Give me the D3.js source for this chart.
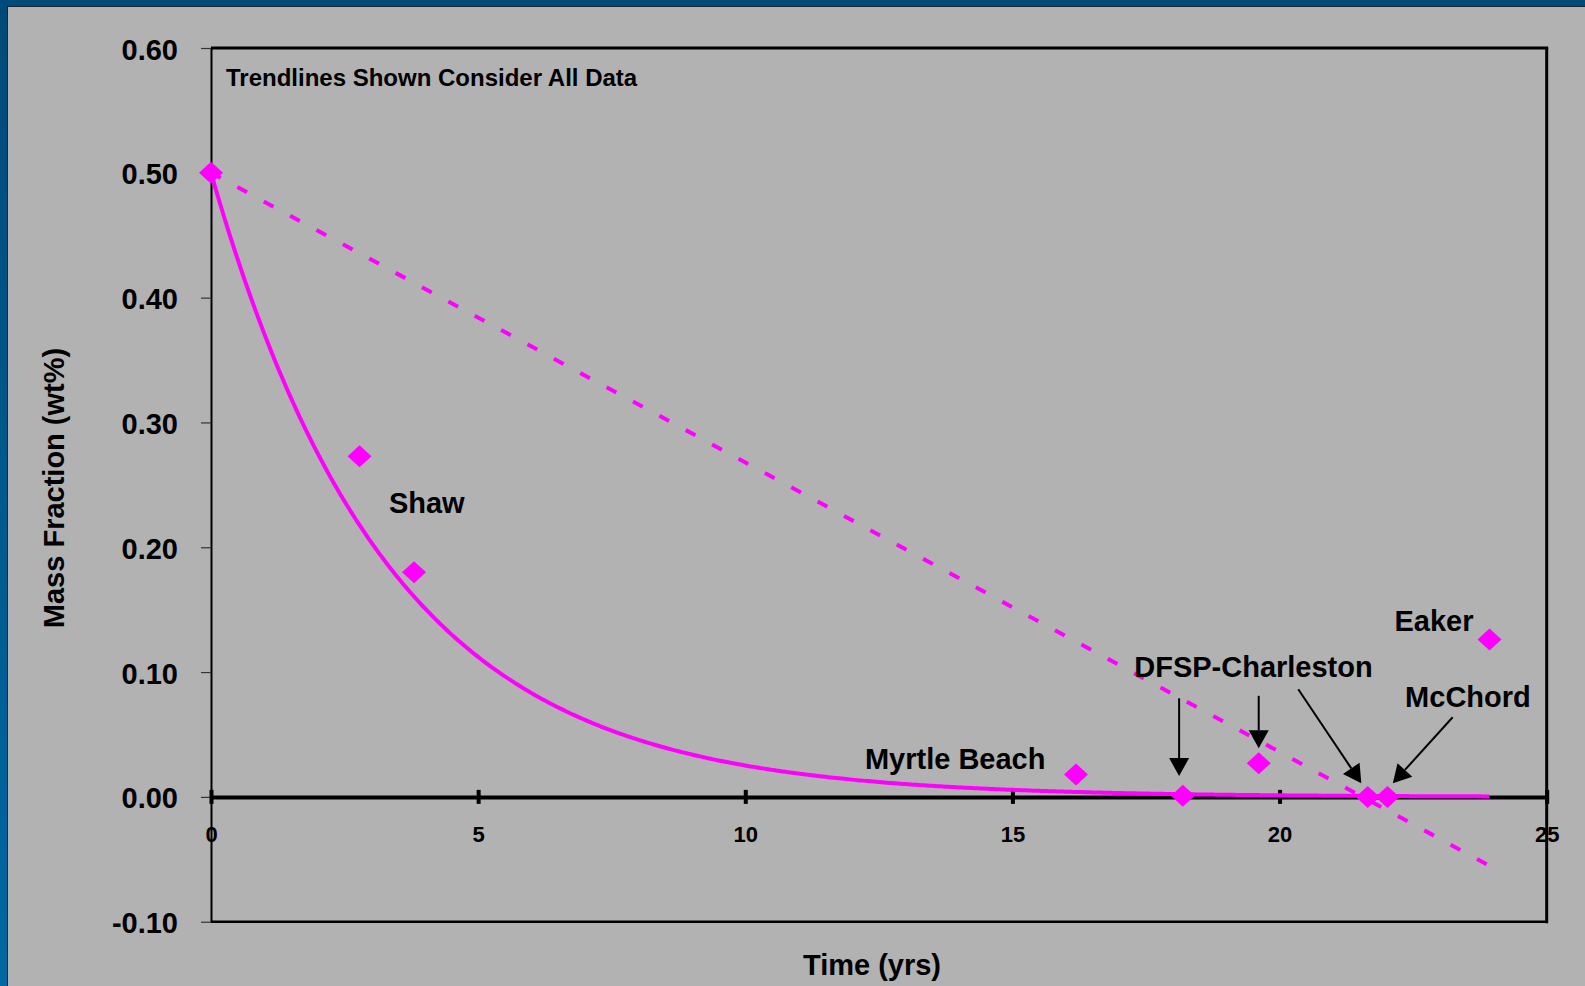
<!DOCTYPE html>
<html>
<head>
<meta charset="utf-8">
<script src="https://cdn.jsdelivr.net/npm/d3@7"></script>
<style>
  html, body { margin: 0; padding: 0; background: #b2b2b2; }
  svg { display: block; }
  text { font-family: "Liberation Sans", Arial, Helvetica, sans-serif; font-weight: bold; fill: #000; }
</style>
</head>
<body>
<svg id="chart" width="1585" height="986"></svg>
<script>
// ---------------- data ----------------
const xTicks = [0, 5, 10, 15, 20, 25];
const yTicks = [-0.10, 0.00, 0.10, 0.20, 0.30, 0.40, 0.50, 0.60];
const pointX = [0, 2.78, 3.80, 16.19, 18.19, 19.61, 21.65, 22.02, 23.93];
const pointY = [0.50, 0.273, 0.180, 0.018, 0.001, 0.027, 0.000, 0.000, 0.126];
// exponential trendline  y = a * exp(-k x)
const expTrend = [0.5, 0.299];
// linear trendline  y = b + m x
const linTrend = [0.5, -0.0232];
const trendRange = [0, 23.93];
const labelText = ["Shaw", "Myrtle Beach", "DFSP-Charleston", "Eaker", "McChord"];
const labelX = [3.33, 12.24, 17.28, 22.15, 22.35];
const labelY = [0.2275, 0.0224, 0.0961, 0.1329, 0.072];
// arrows: tail and tip in data units
const arrowFromX = [18.12, 19.61, 20.35, 23.24];
const arrowFromY = [0.079, 0.081, 0.0862, 0.0638];
const arrowToX = [18.12, 19.61, 21.53, 22.12];
const arrowToY = [0.0167, 0.039, 0.0109, 0.0109];
const noteText = "Trendlines Shown Consider All Data";
const xTitle = "Time (yrs)";
const yTitle = "Mass Fraction (wt%)";

// ---------------- layout ----------------
const W = 1585, H = 986;
const plot = { left: 211, right: 1546.7, top: 48, bottom: 921.7 };
const magenta = "#ff00ff";
const bigFont = 29;

const svg = d3.select("#chart");
const defs = svg.append("defs");
const grad = defs.append("linearGradient").attr("id", "blueGrad")
  .attr("x1", 0).attr("y1", 0).attr("x2", 0).attr("y2", 1);
grad.append("stop").attr("offset", "0%").attr("stop-color", "#004a78");
grad.append("stop").attr("offset", "100%").attr("stop-color", "#0068a3");

svg.append("rect").attr("width", W).attr("height", H).attr("fill", "#b2b2b2");
svg.append("rect").attr("x", 0).attr("y", 0).attr("width", 7).attr("height", H).attr("fill", "url(#blueGrad)");
svg.append("rect").attr("x", 0).attr("y", 0).attr("width", W).attr("height", 6).attr("fill", "#004b79");
svg.append("rect").attr("x", 7).attr("y", 6).attr("width", 1).attr("height", H - 6).attr("fill", "#1c2430");
svg.append("rect").attr("x", 7).attr("y", 6).attr("width", W - 7).attr("height", 1).attr("fill", "#1c2430");

const x = d3.scaleLinear().domain([0, 25]).range([plot.left, plot.right]);
const y = d3.scaleLinear().domain([-0.1, 0.6]).range([plot.bottom, plot.top]);

// plot frame (top, right, bottom)
svg.append("line").attr("x1", plot.left).attr("x2", plot.right + 1.5)
  .attr("y1", plot.top).attr("y2", plot.top).attr("stroke", "#000").attr("stroke-width", 3);
svg.append("line").attr("x1", plot.right).attr("x2", plot.right)
  .attr("y1", plot.top).attr("y2", plot.bottom + 1.5).attr("stroke", "#000").attr("stroke-width", 3);
svg.append("line").attr("x1", plot.left).attr("x2", plot.right)
  .attr("y1", plot.bottom).attr("y2", plot.bottom).attr("stroke", "#000").attr("stroke-width", 2.5);

// y axis
const yAxis = svg.append("g").attr("transform", `translate(${plot.left},0)`)
  .call(d3.axisLeft(y).tickValues(yTicks).tickFormat(d => d.toFixed(2))
    .tickSizeInner(10).tickSizeOuter(0).tickPadding(23));
yAxis.select(".domain").attr("stroke", "#000").attr("stroke-width", 2);
yAxis.selectAll(".tick line").attr("stroke", "#333").attr("stroke-width", 1.2);
yAxis.selectAll(".tick text").attr("font-size", bigFont).attr("dy", "0.38em")
  .style("font-family", "'Liberation Sans', Arial, sans-serif").style("font-weight", "bold").attr("fill", "#000");

// x axis at zero
const xAxis = svg.append("g").attr("transform", `translate(0,${y(0)})`)
  .call(d3.axisBottom(x).tickValues(xTicks).tickFormat(d3.format("d"))
    .tickSizeInner(0).tickSizeOuter(0));
xAxis.select(".domain").attr("stroke", "#000").attr("stroke-width", 4);
xAxis.selectAll(".tick line").attr("y1", -7).attr("y2", 7).attr("stroke", "#000").attr("stroke-width", 4);
xAxis.selectAll(".tick text").attr("y", 45).attr("dy", 0).attr("font-size", 22)
  .style("font-family", "'Liberation Sans', Arial, sans-serif").style("font-weight", "bold").attr("fill", "#000");

// trendlines
const expSamples = d3.range(trendRange[0], trendRange[1], 0.05).concat([trendRange[1]]);
const line = d3.line().x(d => x(d[0])).y(d => y(d[1]));
svg.append("path")
  .datum(expSamples.map(t => [t, expTrend[0] * Math.exp(-expTrend[1] * t)]))
  .attr("d", line).attr("fill", "none").attr("stroke", magenta).attr("stroke-width", 4);
svg.append("path")
  .datum(trendRange.map(t => [t, linTrend[0] + linTrend[1] * t]))
  .attr("d", line).attr("fill", "none").attr("stroke", magenta).attr("stroke-width", 4)
  .attr("stroke-dasharray", "11,19");

// diamond markers
const diamond = {
  draw(ctx, size) {
    const w = 12, h = 11;
    ctx.moveTo(0, -h); ctx.lineTo(w, 0); ctx.lineTo(0, h); ctx.lineTo(-w, 0); ctx.closePath();
  }
};
svg.append("g").selectAll("path").data(pointX.map((d, i) => [d, pointY[i]])).join("path")
  .attr("transform", d => `translate(${x(d[0])},${y(d[1])})`)
  .attr("d", d3.symbol().type(diamond)).attr("fill", magenta);

// arrows
const arrows = arrowFromX.map((d, i) => ({
  x0: x(d), y0: y(arrowFromY[i]), x1: x(arrowToX[i]), y1: y(arrowToY[i])
}));
const ag = svg.append("g");
arrows.forEach(a => {
  const dx = a.x1 - a.x0, dy = a.y1 - a.y0, len = Math.hypot(dx, dy);
  const ux = dx / len, uy = dy / len, headL = 18, headW = 10;
  const bx = a.x1 - ux * headL, by = a.y1 - uy * headL;
  ag.append("line").attr("x1", a.x0).attr("y1", a.y0).attr("x2", bx).attr("y2", by)
    .attr("stroke", "#000").attr("stroke-width", 2);
  ag.append("path").attr("d", `M${a.x1},${a.y1}L${bx - uy * headW},${by + ux * headW}L${bx + uy * headW},${by - ux * headW}Z`)
    .attr("fill", "#000");
});

// labels
svg.append("g").selectAll("text").data(labelText).join("text")
  .attr("x", (d, i) => x(labelX[i])).attr("y", (d, i) => y(labelY[i]))
  .attr("font-size", bigFont).text(d => d);

svg.append("text").attr("x", plot.left + 15).attr("y", 86).attr("font-size", 24).text(noteText);

// axis titles
svg.append("text").attr("x", 872).attr("y", 975).attr("text-anchor", "middle")
  .attr("font-size", bigFont).text(xTitle);
svg.append("text").attr("transform", "translate(64,488) rotate(-90)").attr("text-anchor", "middle")
  .attr("font-size", bigFont).text(yTitle);
</script>
</body>
</html>
